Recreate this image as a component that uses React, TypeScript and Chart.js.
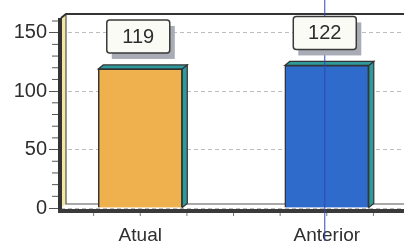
import React, { useEffect, useRef } from "react";
import { Chart, registerables } from "chart.js";

Chart.register(...registerables);

const categories = ["Atual", "Anterior"];
const values = [119, 122];
const barColors = ["#EFB04E", "#2E6BCB"];
const yTickValues = [0, 50, 100, 150];
const yMinorStep = 10;
const xMinorStep = 0.25;

const FONT = "'Liberation Sans', Arial, sans-serif";

const decor = {
  id: "decor",
  beforeDatasetsDraw(chart: any) {
    const { ctx, chartArea } = chart;
    const { left, right, top, bottom } = chartArea;
    const xs = chart.scales.x;
    ctx.save();
    // cream side strip of the wall
    ctx.fillStyle = "#F3E7A8";
    ctx.beginPath();
    ctx.moveTo(left, top + 4);
    ctx.lineTo(left + 5, top);
    ctx.lineTo(left + 5, bottom - 4);
    ctx.lineTo(left, bottom);
    ctx.closePath();
    ctx.fill();
    // wall left edge + back floor edge
    ctx.strokeStyle = "#555";
    ctx.lineWidth = 1.2;
    ctx.beginPath();
    ctx.moveTo(left + 5, top);
    ctx.lineTo(left + 5, bottom - 4);
    ctx.lineTo(right, bottom - 4);
    ctx.stroke();
    // top border
    ctx.strokeStyle = "#333";
    ctx.lineWidth = 2;
    ctx.beginPath();
    ctx.moveTo(left, top + 4);
    ctx.lineTo(left + 5, top);
    ctx.lineTo(right, top);
    ctx.stroke();
    // front y axis line
    ctx.fillStyle = "#333";
    ctx.fillRect(left - 3, top + 4, 4, bottom - top + 1);
    // floor front edge
    ctx.fillStyle = "#3a3a3a";
    ctx.fillRect(left - 3, bottom + 1, right - left + 3, 4);
    // minor x ticks
    ctx.strokeStyle = "#777";
    ctx.lineWidth = 1;
    for (let k = Math.ceil(xs.min / xMinorStep); k * xMinorStep <= xs.max; k++) {
      const px = xs.getPixelForValue(k * xMinorStep);
      if (px < left + 6) continue;
      ctx.beginPath();
      ctx.moveTo(px, bottom + 5);
      ctx.lineTo(px, bottom + 8);
      ctx.stroke();
    }
    // minor y ticks
    const ys = chart.scales.y;
    ctx.strokeStyle = "#555";
    for (let v = 0; v <= ys.max; v += yMinorStep) {
      if (v % 50 === 0) continue;
      const py = ys.getPixelForValue(v);
      ctx.beginPath();
      ctx.moveTo(left - 9, py);
      ctx.lineTo(left - 3, py);
      ctx.stroke();
    }
    ctx.restore();
  },
  afterDatasetsDraw(chart: any) {
    const { ctx } = chart;
    const meta = chart.getDatasetMeta(0);
    const xs = chart.scales.x;
    ctx.save();
    const d = 5;
    meta.data.forEach((bar: any) => {
      const half = bar.width / 2;
      const l = bar.x - half;
      const r = bar.x + half;
      const t = bar.y;
      const b = bar.base;
      ctx.fillStyle = "#2E9A9E";
      ctx.strokeStyle = "#333";
      ctx.lineWidth = 1.2;
      ctx.beginPath();
      ctx.moveTo(r, t);
      ctx.lineTo(r + d, t - 4);
      ctx.lineTo(r + d, b - 4);
      ctx.lineTo(r, b);
      ctx.closePath();
      ctx.fill();
      ctx.stroke();
      ctx.beginPath();
      ctx.moveTo(l, t);
      ctx.lineTo(l + d, t - 4);
      ctx.lineTo(r + d, t - 4);
      ctx.lineTo(r, t);
      ctx.closePath();
      ctx.fill();
      ctx.stroke();
    });
    // scan line (vertical blue)
    const lx = xs.getPixelForValue(1) - 2;
    ctx.strokeStyle = "#3247B8";
    ctx.lineWidth = 1;
    ctx.beginPath();
    ctx.moveTo(lx, 0);
    ctx.lineTo(lx, chart.height);
    ctx.stroke();
    // value boxes
    meta.data.forEach((bar: any, i: number) => {
      const w = 63;
      const h = 33;
      const bx = bar.x - w / 2 - 2;
      const by = bar.y - 16 - h;
      ctx.fillStyle = "#A9ABB5";
      ctx.fillRect(bx + 5, by + 6, w, h);
      ctx.fillStyle = "#FBFBF6";
      ctx.strokeStyle = "#3a3a3a";
      ctx.lineWidth = 1.5;
      ctx.beginPath();
      ctx.roundRect(bx, by, w, h, 3);
      ctx.fill();
      ctx.stroke();
      ctx.fillStyle = "#2e2e2e";
      ctx.font = `20px ${FONT}`;
      ctx.textAlign = "center";
      ctx.textBaseline = "middle";
      ctx.fillText(String(values[i]), bx + w / 2, by + h / 2 + 1);
    });
    ctx.restore();
  },
};

export default function App() {
  const ref = useRef<HTMLCanvasElement>(null);
  useEffect(() => {
    document.body.style.margin = "0";
    const chart = new Chart(ref.current!, {
      type: "bar",
      data: {
        datasets: [
          {
            data: values.map((v, i) => ({ x: i, y: v })),
            backgroundColor: barColors,
            borderColor: "#333",
            borderWidth: 1.5,
            barThickness: 84,
          },
        ],
      },
      plugins: [decor],
      options: {
        animation: false,
        responsive: false,
        layout: { padding: { top: 12, right: 0, left: 0, bottom: 0 } },
        plugins: { legend: { display: false }, tooltip: { enabled: false } },
        scales: {
          x: {
            type: "linear",
            offset: false,
            min: -0.425,
            max: 1.414,
            afterBuildTicks: (s: any) => {
              s.ticks = categories.map((_, i) => ({ value: i }));
            },
            afterFit: (s: any) => {
              s.height = 33;
            },
            ticks: {
              callback: (v: any) => categories[v] ?? "",
              font: { family: FONT, size: 19 },
              color: "#2e2e2e",
              padding: 8,
              maxRotation: 0,
            },
            grid: { display: false },
            border: { display: false },
          },
          y: {
            min: 0,
            max: 166,
            afterBuildTicks: (s: any) => {
              s.ticks = yTickValues.map((v) => ({ value: v }));
            },
            afterFit: (s: any) => {
              s.width = 61;
            },
            ticks: {
              font: { family: FONT, size: 20 },
              color: "#2e2e2e",
              padding: 2,
            },
            grid: {
              color: "#BDBDBD",
              tickColor: "#555",
              tickLength: 12,
              lineWidth: 1,
              tickBorderDash: [],
            },
            border: { display: false, dash: [4, 3] },
          },
        },
      },
    } as any);
    return () => chart.destroy();
  }, []);
  return <canvas ref={ref} width={404} height={241} style={{ display: "block" }} />;
}
